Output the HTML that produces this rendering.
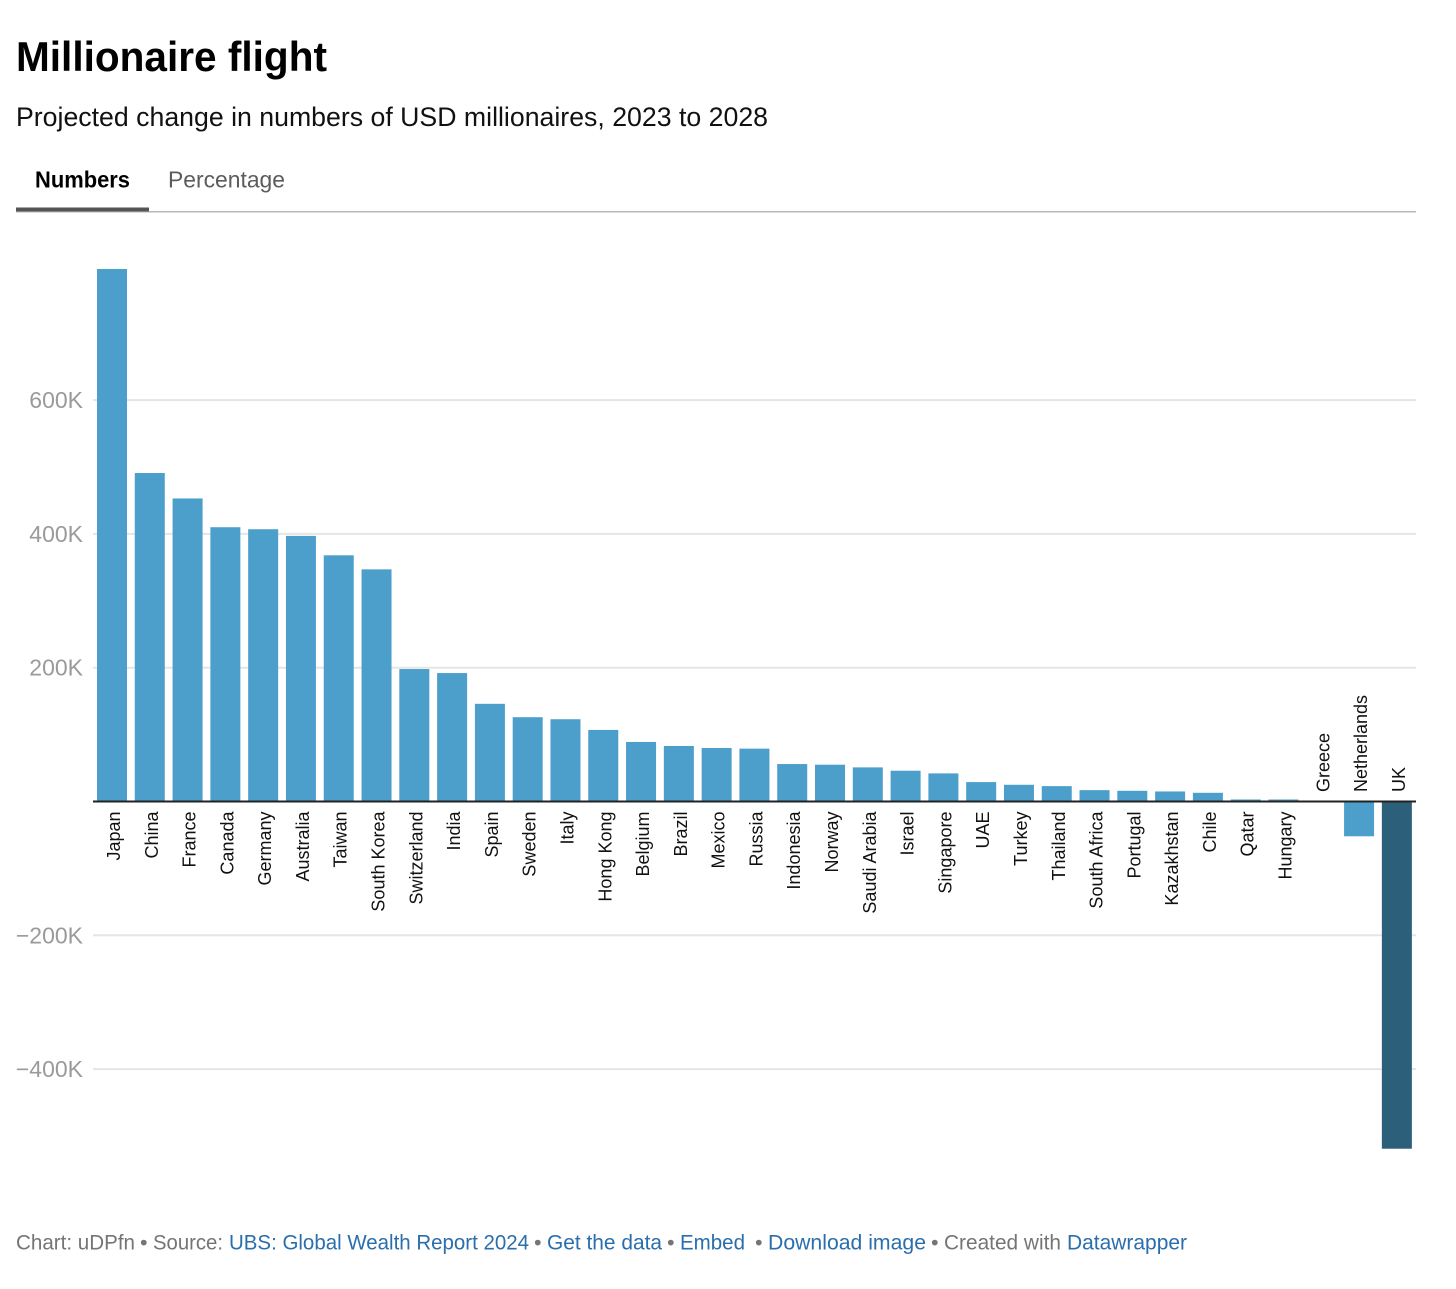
<!DOCTYPE html>
<html lang="en">
<head>
<meta charset="utf-8">
<title>Millionaire flight</title>
<style>
html,body{margin:0;padding:0;background:#fff;}
svg{display:block;font-family:"Liberation Sans",Arial,sans-serif;}
a{cursor:pointer;}
</style>
</head>
<body>
<svg id="chart" xmlns="http://www.w3.org/2000/svg" width="1456" height="1289" viewBox="0 0 1456 1289">
  <rect x="0" y="0" width="1456" height="1289" fill="#ffffff"/>
  <text x="16" y="71" font-size="42" font-weight="700" fill="#000" textLength="311" lengthAdjust="spacingAndGlyphs">Millionaire flight</text>
  <text x="16" y="126" font-size="27" fill="#111" textLength="752" lengthAdjust="spacingAndGlyphs">Projected change in numbers of USD millionaires, 2023 to 2028</text>
  <text x="35" y="187.5" font-size="23" font-weight="700" fill="#000" textLength="95" lengthAdjust="spacingAndGlyphs">Numbers</text>
  <text x="168" y="187.5" font-size="23" fill="#5c5c5c" textLength="117" lengthAdjust="spacingAndGlyphs">Percentage</text>
  <rect x="16" y="211" width="1400" height="1.5" fill="#b9b9b9"/>
  <rect x="16" y="207.5" width="133" height="4" fill="#555555"/>
  <g id="grid"></g>
  <g id="bars"></g>
  <g id="labels"></g>
  <g id="axis"></g>
  <g font-size="21.5" fill="#757575">
    <text x="16" y="1249.5" textLength="119" lengthAdjust="spacingAndGlyphs">Chart: uDPfn</text>
    <text x="140" y="1249.5">•</text>
    <text x="153" y="1249.5" textLength="70" lengthAdjust="spacingAndGlyphs">Source:</text>
    <text x="229" y="1249.5" fill="#2a6ead" textLength="300" lengthAdjust="spacingAndGlyphs">UBS: Global Wealth Report 2024</text>
    <text x="534" y="1249.5">•</text>
    <text x="547" y="1249.5" fill="#2a6ead" textLength="115" lengthAdjust="spacingAndGlyphs">Get the data</text>
    <text x="667" y="1249.5">•</text>
    <text x="680" y="1249.5" fill="#2a6ead" textLength="65" lengthAdjust="spacingAndGlyphs">Embed</text>
    <text x="755" y="1249.5">•</text>
    <text x="768" y="1249.5" fill="#2a6ead" textLength="158" lengthAdjust="spacingAndGlyphs">Download image</text>
    <text x="931" y="1249.5">•</text>
    <text x="944" y="1249.5" textLength="117" lengthAdjust="spacingAndGlyphs">Created with</text>
    <text x="1067" y="1249.5" fill="#2a6ead" textLength="120" lengthAdjust="spacingAndGlyphs">Datawrapper</text>
  </g>
</svg>
<script>
const categories = ["Japan","China","France","Canada","Germany","Australia","Taiwan","South Korea","Switzerland","India","Spain","Sweden","Italy","Hong Kong","Belgium","Brazil","Mexico","Russia","Indonesia","Norway","Saudi Arabia","Israel","Singapore","UAE","Turkey","Thailand","South Africa","Portugal","Kazakhstan","Chile","Qatar","Hungary","Greece","Netherlands","UK"];
const changeInThousands = [796,491,453,410,407,397,368,347,198,192,146,126,123,107,89,83,80,79,56,55,51,46,42,29,25,23,17,16,15,13,3,3,0,-52,-519];
const highlightedCategories = ["UK"];
const tickValues = [600,400,200,-200,-400];
const tickLabels = ["600K","400K","200K","\u2212200K","\u2212400K"];

const NS = "http://www.w3.org/2000/svg";
const plot = {zeroY: 801.5, pxPerUnit: 0.669, firstX: 97, step: 37.79, barWidth: 30, left: 93, right: 1416};
function yScale(v) { return plot.zeroY - v * plot.pxPerUnit; }
function xScale(i) { return plot.firstX + i * plot.step; }
function make(tag, attrs, text) {
  const el = document.createElementNS(NS, tag);
  for (const k in attrs) el.setAttribute(k, attrs[k]);
  if (text !== undefined) el.textContent = text;
  return el;
}
const gridG = document.getElementById("grid");
const barsG = document.getElementById("bars");
const labelsG = document.getElementById("labels");
const axisG = document.getElementById("axis");

tickValues.forEach(function (v, i) {
  const line = make("line", {x1: plot.left, x2: plot.right, y1: yScale(v), y2: yScale(v), stroke: "#e5e5e5", "stroke-width": 2});
  
  
  gridG.appendChild(line);
  const label = make("text", {x: 83, y: yScale(v) + 8, "text-anchor": "end", "font-size": 23, fill: "#9a9a9a"}, tickLabels[i]);
  
  
  gridG.appendChild(label);
});

categories.forEach(function (name, i) {
  const v = changeInThousands[i];
  const top = Math.min(yScale(v), yScale(0));
  const h = Math.abs(yScale(v) - yScale(0));
  const bar = make("rect", {x: xScale(i), y: top, width: plot.barWidth, height: h, fill: highlightedCategories.indexOf(name) >= 0 ? "#2c5f7a" : "#4c9fcb"});
  
  
  barsG.appendChild(bar);

  const cx = xScale(i) + plot.barWidth / 2 + 8;
  const below = v > 0;
  const ly = below ? yScale(0) + 10 : yScale(0) - 9.5;
  const label = make("text", {
    transform: "translate(" + cx + "," + ly + ") rotate(-90)",
    "text-anchor": below ? "end" : "start",
    "font-size": 18,
    fill: "#111"
  }, name);
  
  
  labelsG.appendChild(label);
});

const baseline = make("line", {x1: plot.left, x2: plot.right, y1: yScale(0), y2: yScale(0), stroke: "#222222", "stroke-width": 2});


axisG.appendChild(baseline);
</script>
</body>
</html>
